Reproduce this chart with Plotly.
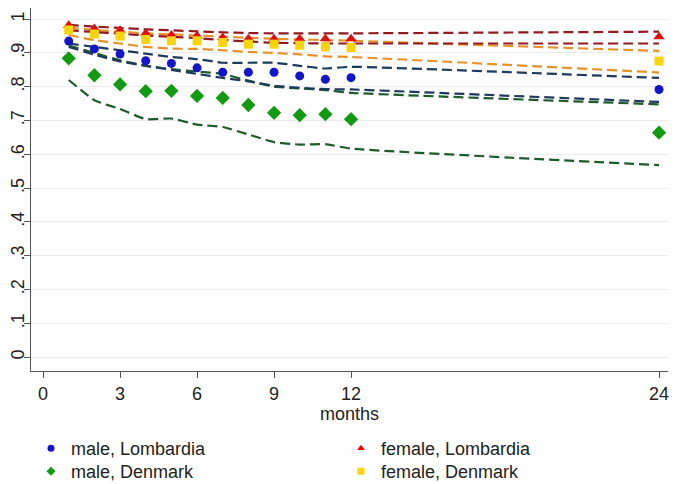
import plotly.graph_objects as go

months = [1, 2, 3, 4, 5, 6, 7, 8, 9, 10, 11, 12, 24]

male_lombardia = [0.935, 0.912, 0.897, 0.877, 0.869, 0.856, 0.843, 0.843, 0.843, 0.832, 0.822, 0.827, 0.792]
female_lombardia = [0.982, 0.972, 0.967, 0.958, 0.953, 0.951, 0.946, 0.942, 0.942, 0.942, 0.942, 0.942, 0.948]
male_denmark = [0.884, 0.834, 0.807, 0.787, 0.788, 0.773, 0.767, 0.746, 0.723, 0.716, 0.719, 0.704, 0.664]
female_denmark = [0.968, 0.956, 0.950, 0.940, 0.936, 0.936, 0.931, 0.926, 0.926, 0.923, 0.918, 0.916, 0.876]

ref_red_hi = [0.983, 0.978, 0.974, 0.970, 0.967, 0.964, 0.961, 0.959, 0.958, 0.958, 0.958, 0.958, 0.963]
ref_red_lo = [0.967, 0.962, 0.957, 0.952, 0.948, 0.944, 0.938, 0.934, 0.930, 0.929, 0.928, 0.928, 0.928]
ref_orange_hi = [0.975, 0.968, 0.963, 0.958, 0.955, 0.952, 0.948, 0.945, 0.942, 0.940, 0.938, 0.936, 0.906]
ref_orange_lo = [0.953, 0.938, 0.928, 0.918, 0.913, 0.912, 0.908, 0.903, 0.900, 0.896, 0.890, 0.888, 0.842]
ref_navy_hi = [0.928, 0.918, 0.908, 0.898, 0.888, 0.882, 0.871, 0.871, 0.871, 0.862, 0.854, 0.859, 0.826]
ref_navy_lo = [0.918, 0.895, 0.875, 0.862, 0.850, 0.838, 0.826, 0.816, 0.803, 0.797, 0.793, 0.792, 0.755]
ref_green_hi = [0.922, 0.900, 0.878, 0.862, 0.852, 0.845, 0.838, 0.818, 0.800, 0.795, 0.790, 0.782, 0.748]
ref_green_lo = [0.820, 0.760, 0.734, 0.704, 0.706, 0.688, 0.681, 0.659, 0.636, 0.629, 0.630, 0.617, 0.568]

x_ticks = [0, 3, 6, 9, 12, 24]
y_ticks = [0, 0.1, 0.2, 0.3, 0.4, 0.5, 0.6, 0.7, 0.8, 0.9, 1.0]
y_ticktext = ["0", ".1", ".2", ".3", ".4", ".5", ".6", ".7", ".8", ".9", "1"]

FONT = "Liberation Sans, Arial, sans-serif"
FS = 18

fig = go.Figure()

lines = [
    (ref_green_lo, "#1f5a2c"),
    (ref_green_hi, "#1f5a2c"),
    (ref_navy_lo, "#1e3a5c"),
    (ref_navy_hi, "#1e3a5c"),
    (ref_orange_lo, "#e8912c"),
    (ref_orange_hi, "#e8912c"),
    (ref_red_lo, "#921b22"),
    (ref_red_hi, "#921b22"),
]
for vals, col in lines:
    fig.add_trace(go.Scatter(
        x=months, y=vals, mode="lines", showlegend=False, hoverinfo="skip",
        line=dict(color=col, width=2.2, dash="10px,5px", shape="spline", smoothing=0.4),
    ))

markers = [
    ("male, Lombardia", male_lombardia, "circle", "#1414c8", 9, "legend"),
    ("female, Lombardia", female_lombardia, "triangle-up", "#e01010", 10, "legend"),
    ("male, Denmark", male_denmark, "diamond", "#129a12", 11, "legend2"),
    ("female, Denmark", female_denmark, "square", "#f8d40c", 9, "legend2"),
]
for name, vals, sym, col, sz, lg in markers:
    fig.add_trace(go.Scatter(
        x=months, y=vals, mode="markers", name=name, showlegend=False,
        marker=dict(symbol=sym, color=col, size=sz, line=dict(width=0)),
    ))
# legend entries with small symbols, as in the reference
for name, vals, sym, col, sz, lg in markers:
    fig.add_trace(go.Scatter(
        x=[None], y=[None], mode="markers", name=name, showlegend=True, legend=lg,
        marker=dict(symbol=sym, color=col, size=7, line=dict(width=0)),
    ))

legend_common = dict(
    orientation="h", xanchor="left", yanchor="top",
    entrywidth=265, entrywidthmode="pixels",
    font=dict(family=FONT, size=FS, color="#222"),
    traceorder="normal", itemsizing="trace", tracegroupgap=0,
    bgcolor="rgba(0,0,0,0)",
)

fig.update_layout(
    width=675, height=484,
    margin=dict(l=31, r=7, t=8, b=113, autoexpand=False),
    paper_bgcolor="white", plot_bgcolor="white",
    font=dict(family=FONT, size=FS, color="#222"),
    legend=dict(x=0.0, y=-0.1625, **legend_common),
    legend2=dict(x=0.0, y=-0.2259, **legend_common),
    showlegend=True,
)
fig.update_xaxes(
    range=[-0.47, 24.35], tickvals=x_ticks, ticktext=[str(v) for v in x_ticks],
    showline=True, linecolor="#555", linewidth=1.3, ticks="outside", ticklen=6,
    tickcolor="#555", showgrid=False, zeroline=False, ticklabeloverflow="allow",
    ticklabelstandoff=0,
    title=dict(text="months", font=dict(family=FONT, size=FS, color="#222"), standoff=0),
)
fig.update_yaxes(
    range=[-0.041, 1.033], tickvals=y_ticks, ticktext=y_ticktext, tickangle=-90,
    showline=True, linecolor="#555", linewidth=1.3, ticks="outside", ticklen=6,
    tickcolor="#555", showgrid=True, gridcolor="#ececec", gridwidth=1, zeroline=False,
    ticklabeloverflow="allow", ticklabelstandoff=-7,
)

fig.write_html(
    "out.html",
    config={"displayModeBar": False},
    post_script="document.body.style.margin='0';document.body.style.overflow='hidden';",
)
